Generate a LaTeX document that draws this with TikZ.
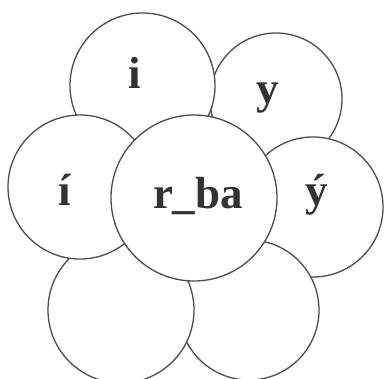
\documentclass[tikz,border=0pt]{standalone}
\usepackage{fontspec}
\setmainfont{Liberation Serif}
\begin{document}
\begin{tikzpicture}[x=1pt,y=-1pt,
  petal/.style={circle,draw=black!70,line width=1.3pt,fill=white,inner sep=0pt,minimum size=#1},
  lbl/.style={anchor=base,inner sep=0pt,font=\fontsize{45}{50}\selectfont\bfseries,text=black!80}]
\useasboundingbox[fill=white] (0,0) rectangle (385,378);
\node[petal=132pt] (cy) at (276,99) {};
\node[petal=145pt] (ci) at (142.5,85.5) {};
\node[petal=140pt] (cyy) at (313,207) {};
\node[petal=140pt] (cbr) at (249,310) {};
\node[petal=146pt] (cbl) at (121,310) {};
\node[petal=144pt] (cii) at (80,187) {};
\node[petal=166pt] (cc) at (194,198) {};
\node[lbl] (ti) at (135,88) {i};
\node[lbl] (ty) at (268,103) {y};
\node[lbl] (tii) at (65,205) {í};
\node[lbl] (tc) at (198,208) {r\_ba};
\node[lbl] (tyy) at (317,205) {ý};
\end{tikzpicture}
\end{document}
